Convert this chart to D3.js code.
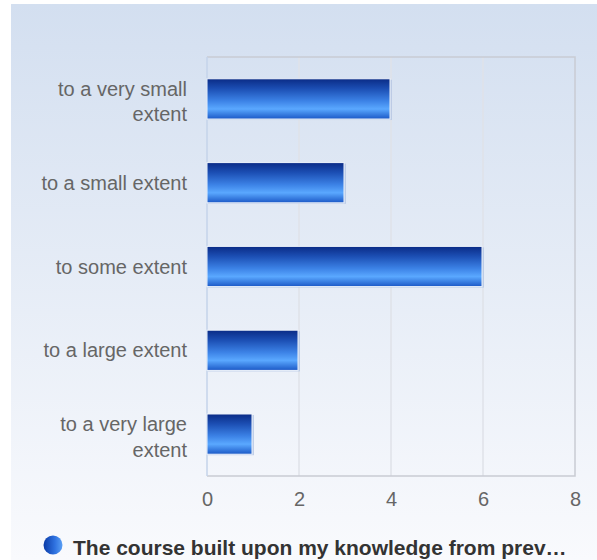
<!DOCTYPE html>
<html>
<head>
<meta charset="utf-8">
<script src="https://cdn.jsdelivr.net/npm/d3@7"></script>
<style>
  body { margin: 0; background: #fff; }
  svg { display: block; font-family: "Liberation Sans", Arial, sans-serif; }
</style>
</head>
<body>
<svg></svg>
<script>
// answers, top to bottom, and how many picked each
var categories = [
  ["to a very small", "extent"],
  ["to a small extent"],
  ["to some extent"],
  ["to a large extent"],
  ["to a very large", "extent"]
];
var values = [4, 3, 6, 2, 1];
var xTicks = [0, 2, 4, 6, 8];
var seriesName = "The course built upon my knowledge from prev\u2026";

var svgWidth = 597, svgHeight = 560;
var margin = { top: 57, right: 22, bottom: 84, left: 207 };
var width = svgWidth - margin.left - margin.right;
var height = svgHeight - margin.top - margin.bottom;

var svg = d3.select("svg")
  .attr("width", svgWidth)
  .attr("height", svgHeight);

var defs = svg.append("defs");

var bg = defs.append("linearGradient")
  .attr("id", "bg").attr("x1", 0).attr("y1", 0).attr("x2", 0).attr("y2", 1);
bg.append("stop").attr("offset", "0%").attr("stop-color", "#d3dff0");
bg.append("stop").attr("offset", "100%").attr("stop-color", "#f9fafd");

var barGrad = defs.append("linearGradient")
  .attr("id", "barGrad").attr("x1", 0).attr("y1", 0).attr("x2", 0).attr("y2", 1);
[["0%", "#0a2b86"], ["25%", "#1c4fb4"], ["55%", "#3c82e6"], ["75%", "#5aa8ff"], ["100%", "#1b58c6"]]
  .forEach(function(s) {
    barGrad.append("stop").attr("offset", s[0]).attr("stop-color", s[1]);
  });

var dotGrad = defs.append("linearGradient")
  .attr("id", "dotGrad").attr("x1", 0).attr("y1", 0).attr("x2", 1).attr("y2", 0);
dotGrad.append("stop").attr("offset", "0%").attr("stop-color", "#0a3aa6");
dotGrad.append("stop").attr("offset", "60%").attr("stop-color", "#2f72e0");
dotGrad.append("stop").attr("offset", "100%").attr("stop-color", "#5aa0f5");

// background panel
svg.append("rect")
  .attr("x", 11).attr("y", 4)
  .attr("width", svgWidth - 11).attr("height", svgHeight - 4)
  .attr("fill", "url(#bg)");

var g = svg.append("g")
  .attr("transform", "translate(" + margin.left + "," + margin.top + ")");

var x = d3.scaleLinear()
  .domain([0, 8])
  .range([0, width]);

var y = d3.scaleBand()
  .domain(d3.range(categories.length))
  .range([0, height])
  .paddingInner(0.52)
  .paddingOuter(0.26);

// grid lines
g.append("g")
  .selectAll("line")
  .data(xTicks.slice(1, -1))
  .enter().append("line")
  .attr("x1", function(d) { return x(d); })
  .attr("x2", function(d) { return x(d); })
  .attr("y1", 0).attr("y2", height)
  .attr("stroke", "#dfe2e8")
  .attr("stroke-width", 1.5);

// plot frame
g.append("path")
  .attr("d", "M0,0H" + width + "V" + height + "H0")
  .attr("fill", "none")
  .attr("stroke", "#c9ccd3")
  .attr("stroke-width", 1.5);
g.append("line")
  .attr("x1", 0).attr("x2", 0).attr("y1", 0).attr("y2", height)
  .attr("stroke", "#c5d3ea")
  .attr("stroke-width", 1.5);

// bars
var bars = g.append("g")
  .selectAll("g")
  .data(values)
  .enter().append("g");

bars.append("rect")
  .attr("x", 1)
  .attr("y", function(d, i) { return y(i) + 1; })
  .attr("width", function(d) { return x(d); })
  .attr("height", y.bandwidth())
  .attr("fill", "#b4c6e4")
  .attr("opacity", 0.8);

bars.append("rect")
  .attr("x", 0)
  .attr("y", function(d, i) { return y(i); })
  .attr("width", function(d) { return x(d) - 1; })
  .attr("height", y.bandwidth())
  .attr("fill", "url(#barGrad)")
  .attr("stroke", "#eef3fb")
  .attr("stroke-width", 1);

// x axis
var xAxis = g.append("g")
  .attr("transform", "translate(0," + height + ")")
  .call(d3.axisBottom(x).tickValues(xTicks).tickSize(0).tickPadding(16));
xAxis.select(".domain").remove();
xAxis.selectAll("text")
  .attr("fill", "#666")
  .style("font-size", "20px")
  .style("font-family", "'Liberation Sans', Arial, sans-serif");

// category labels
var labels = g.append("g")
  .selectAll("text")
  .data(categories)
  .enter().append("text")
  .attr("text-anchor", "end")
  .attr("fill", "#666")
  .style("font-size", "20px")
  .attr("transform", function(d, i) {
    return "translate(-20," + (y(i) + y.bandwidth() / 2) + ")";
  });

labels.selectAll("tspan")
  .data(function(d) { return d; })
  .enter().append("tspan")
  .attr("x", 0)
  .attr("y", function(d, i, nodes) {
    var n = nodes.length;
    return n === 1 ? 7 : (i === 0 ? -3 : 22.5);
  })
  .text(function(d) { return d; });

// legend
var legend = svg.append("g")
  .attr("transform", "translate(53,545)");
legend.append("circle")
  .attr("r", 9.5)
  .attr("fill", "url(#dotGrad)");
legend.append("text")
  .attr("x", 20)
  .attr("y", 10)
  .attr("fill", "#333")
  .style("font-size", "21px")
  .style("font-weight", "bold")
  .text(seriesName);
</script>
</body>
</html>
